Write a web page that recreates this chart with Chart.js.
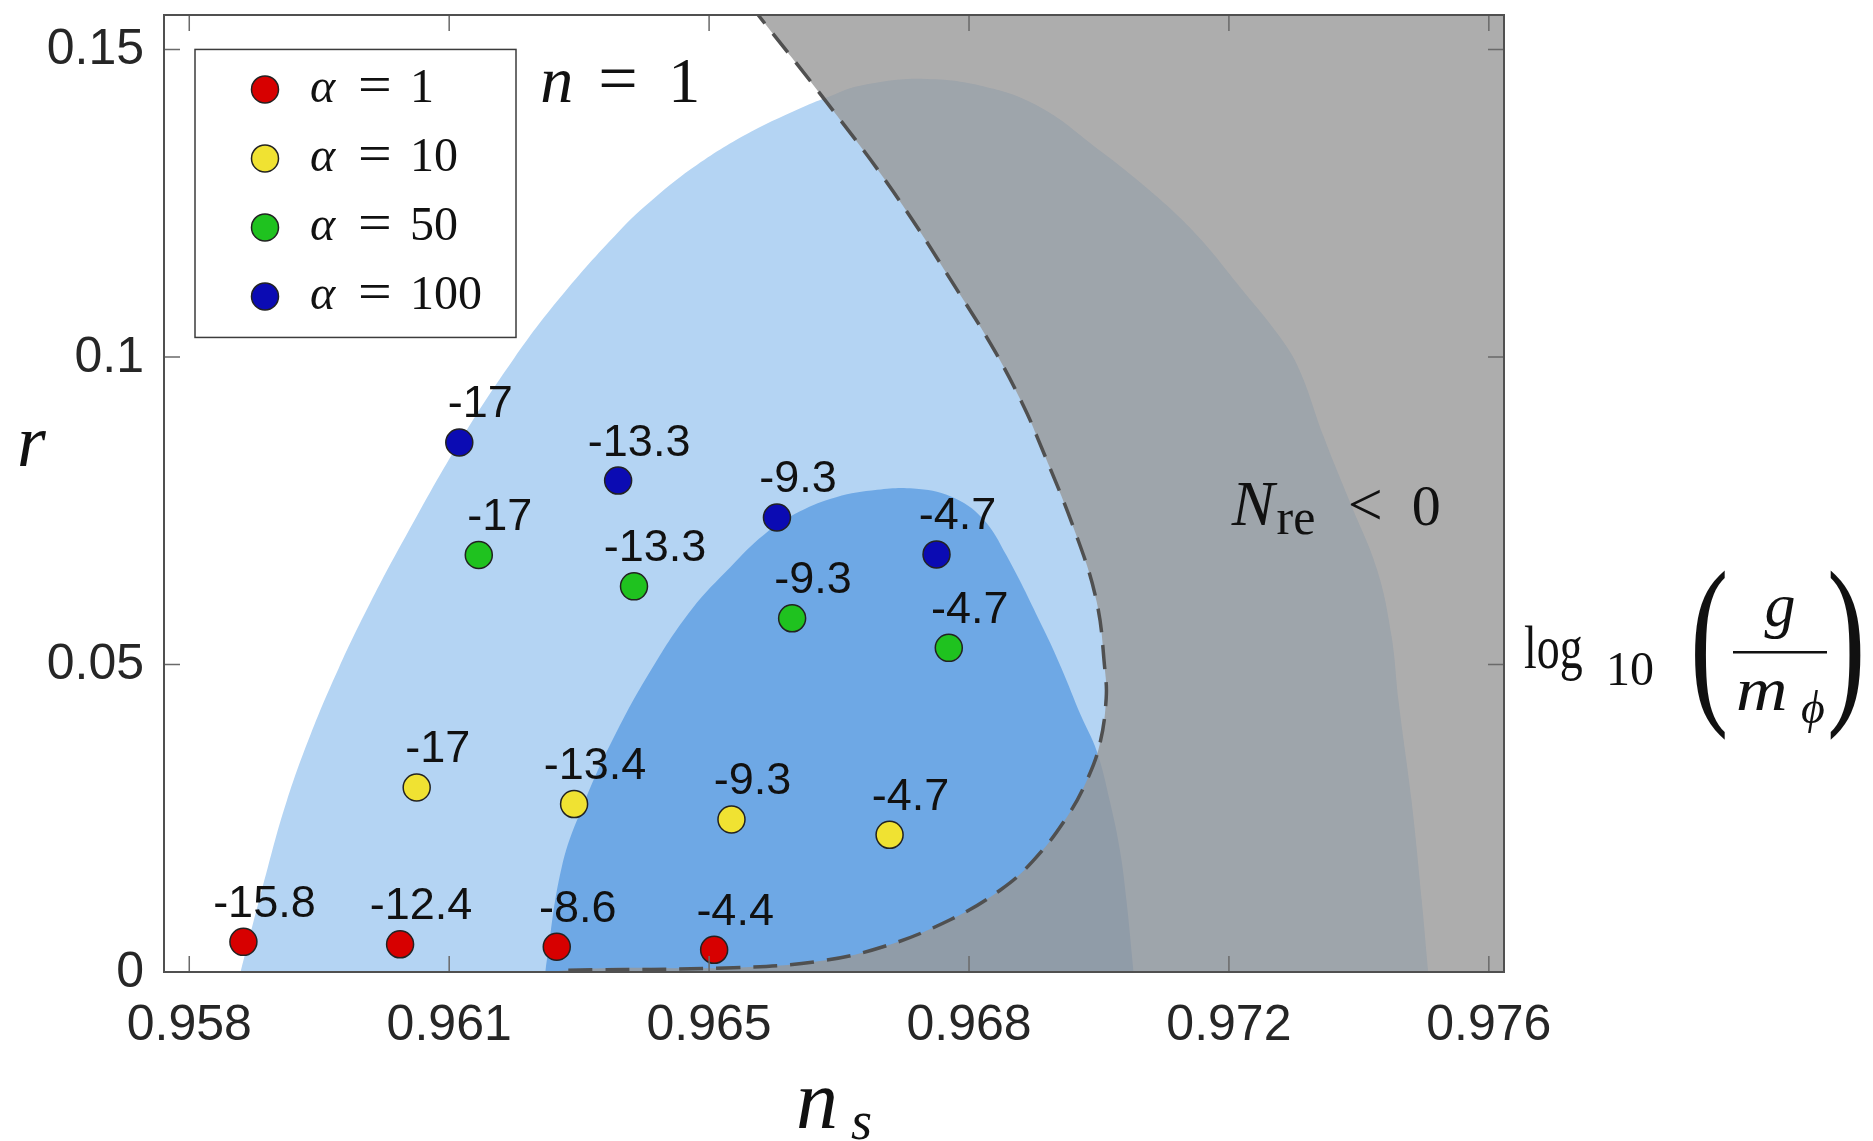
<!DOCTYPE html>
<html>
<head>
<meta charset="utf-8">
<script src="https://cdn.jsdelivr.net/npm/chart.js@4.4.1/dist/chart.umd.min.js"></script>
<style>
  html, body { margin: 0; padding: 0; background: #fff; }
  canvas { display: block; }
</style>
</head>
<body>
<canvas id="chart" width="1873" height="1141"></canvas>
<script>
// ==========================================
// n = 1 : plane (n_s, r), punts etiquetats amb log10(g/m_phi)
// ==========================================

// --- Eixos ---
const X_MIN = 0.95765, X_MAX = 0.97621;
const Y_MIN = 0, Y_MAX = 0.1556;

const xTickValues = [0.958, 0.9616, 0.9652, 0.9688, 0.9724, 0.976];
const xTickLabels = ['0.958', '0.961', '0.965', '0.968', '0.972', '0.976'];
const yTickValues = [0, 0.05, 0.1, 0.15];
const yTickLabels = ['0', '0.05', '0.1', '0.15'];

// --- Regió exterior (blau clar) ---
const outerNs = [0.95871, 0.95909, 0.95935, 0.95968, 0.96007, 0.96051, 0.96100, 0.96178, 0.96250,
                 0.96314, 0.96395, 0.96444, 0.96503, 0.96578, 0.96655, 0.96683, 0.96729, 0.96821,
                 0.96914, 0.96983, 0.97052, 0.97121, 0.97191, 0.97260, 0.97311, 0.97338, 0.97371,
                 0.97408, 0.97445, 0.97465, 0.97475, 0.97493, 0.97507, 0.97516];
const outerR  = [0, 0.0171, 0.0278, 0.0386, 0.0494, 0.0601, 0.0709, 0.0869, 0.0998,
                 0.1097, 0.1204, 0.1258, 0.1312, 0.1366, 0.1409, 0.1422, 0.1441, 0.1452,
                 0.1436, 0.1403, 0.1344, 0.1280, 0.1204, 0.1107, 0.1032, 0.0978, 0.0871,
                 0.0763, 0.0655, 0.0548, 0.0440, 0.0278, 0.0117, 0];

// --- Regió interior (blau fosc) ---
const innerNs = [0.96293, 0.96316, 0.96348, 0.96390, 0.96441, 0.96496, 0.96550, 0.96596, 0.96646,
                 0.96696, 0.96753, 0.96803, 0.96855, 0.96899, 0.96932, 0.96983, 0.97008, 0.97035,
                 0.97057, 0.97075, 0.97089, 0.97098, 0.97108];
const innerR  = [0, 0.0171, 0.0278, 0.0386, 0.0494, 0.0590, 0.0659, 0.0711, 0.0749,
                 0.0772, 0.0784, 0.0786, 0.0773, 0.0737, 0.0677, 0.0558, 0.0494, 0.0417,
                 0.0359, 0.0278, 0.0198, 0.0117, 0];

// --- Frontera N_re = 0 (discontínua), de baix cap al nas i fins a dalt ---
const nreNs = [0.96325, 0.96554, 0.96669, 0.96761, 0.96854, 0.96923, 0.96969, 0.97015, 0.97043,
               0.97061, 0.97070, 0.97068, 0.97057, 0.97029, 0.96974, 0.96954, 0.96917, 0.96870,
               0.96775, 0.96683, 0.96588];
const nreR  = [0.0003, 0.0007, 0.0017, 0.0041, 0.0085, 0.0133, 0.0181, 0.0251, 0.0311,
               0.0370, 0.0445, 0.0494, 0.0601, 0.0709, 0.0871, 0.0924, 0.1007, 0.1097,
               0.1269, 0.1414, 0.1556];

// --- Punts de referència, una fila per alpha ---
const alphaValues = [1, 10, 50, 100];
const alphaColors = ['#d70000', '#f0e232', '#1fc21f', '#0b0bb3'];
const pointNs = [
  [0.95875, 0.96092, 0.96309, 0.96527],
  [0.96115, 0.96333, 0.96551, 0.96770],
  [0.96201, 0.96416, 0.96635, 0.96852],
  [0.96174, 0.96394, 0.96614, 0.96835],
];
const pointR = [
  [0.0049, 0.0045, 0.0041, 0.0036],
  [0.0300, 0.0273, 0.0248, 0.0223],
  [0.0678, 0.0627, 0.0575, 0.0527],
  [0.0861, 0.0799, 0.0739, 0.0679],
];
const pointLog = [
  [-15.8, -12.4, -8.6, -4.4],
  [-17, -13.4, -9.3, -4.7],
  [-17, -13.3, -9.3, -4.7],
  [-17, -13.3, -9.3, -4.7],
];

// --- Utilitats ---
const SANS = '"Liberation Sans", Arial, Helvetica, sans-serif';
const SERIF = '"Liberation Serif", "Times New Roman", serif';

function zip(xs, ys) {
  return xs.map((x, i) => ({ x, y: ys[i] }));
}

// text serif; sx comprimeix en horitzontal, retorna l'amplada dibuixada
function text(ctx, str, x, y, size, italic, align, sx) {
  sx = sx || 1;
  ctx.save();
  ctx.font = (italic ? 'italic ' : '') + size + 'px ' + SERIF;
  ctx.textAlign = align || 'left';
  ctx.translate(x, y);
  ctx.scale(sx, 1);
  ctx.fillText(str, 0, 0);
  const w = ctx.measureText(str).width * sx;
  ctx.restore();
  return w;
}

function marker(ctx, x, y, r, color) {
  ctx.beginPath();
  ctx.arc(x, y, r, 0, Math.PI * 2);
  ctx.fillStyle = color;
  ctx.fill();
  ctx.lineWidth = 1.5;
  ctx.strokeStyle = '#222';
  ctx.stroke();
}

// zona N_re < 0: frontera discontínua tancada per fora de l'àrea (es retalla)
function nreRegion() {
  return [{ x: 0.9615, y: -0.003 }]
    .concat(zip(nreNs, nreR))
    .concat([{ x: 0.96540, y: 0.163 }, { x: 0.985, y: 0.163 }, { x: 0.985, y: -0.008 }]);
}

// --- Datasets ---
const regionSets = [
  {
    type: 'line', label: 'outer', order: 10,
    data: zip(outerNs, outerR),
    backgroundColor: '#b4d4f3', borderWidth: 0, pointRadius: 0, tension: 0.4,
    fill: 'origin',
  },
  {
    type: 'line', label: 'inner', order: 9,
    data: zip(innerNs, innerR),
    backgroundColor: '#6ea8e5', borderWidth: 0, pointRadius: 0, tension: 0.4,
    fill: 'origin',
  },
  {
    type: 'line', label: 'nre<0', order: 8,
    data: nreRegion(),
    backgroundColor: 'rgba(153,153,153,0.8)', borderWidth: 0, pointRadius: 0, tension: 0.4,
    fill: 'shape',
  },
  {
    type: 'line', label: 'nre=0', order: 7,
    data: zip(nreNs, nreR),
    borderColor: '#505050', borderWidth: 3.5, borderDash: [24, 13],
    pointRadius: 0, tension: 0.4, fill: false,
  },
];

const FIRST_POINT_SET = regionSets.length;

const pointSets = alphaValues.map((a, s) => ({
  type: 'scatter', label: 'alpha = ' + a, order: 4 - s,
  data: zip(pointNs[s], pointR[s]),
  pointRadius: 13.5, pointHoverRadius: 13.5,
  pointBackgroundColor: alphaColors[s], pointBorderColor: '#222', pointBorderWidth: 1.5,
}));

// --- Decoració: marc, ticks interiors, etiquetes, llegenda, textos ---
const decor = {
  id: 'decor',
  afterDatasetsDraw(chart) {
    const ctx = chart.ctx;
    ctx.save();
    ctx.font = '45px ' + SANS;
    ctx.fillStyle = '#111';
    ctx.textAlign = 'center';
    ctx.textBaseline = 'alphabetic';
    pointLog.forEach((row, s) => {
      const meta = chart.getDatasetMeta(FIRST_POINT_SET + s);
      meta.data.forEach((el, i) => {
        ctx.fillText(String(row[i]), el.x + 21, el.y - 25);
      });
    });
    ctx.restore();
  },
  afterDraw(chart) {
    const ctx = chart.ctx;
    const { left, right, top, bottom } = chart.chartArea;
    const xs = chart.scales.x, ys = chart.scales.y;

    ctx.save();
    // ticks cap endins, als quatre costats
    ctx.strokeStyle = '#6a6a6a';
    ctx.lineWidth = 1.5;
    ctx.beginPath();
    xTickValues.forEach(v => {
      const px = xs.getPixelForValue(v);
      ctx.moveTo(px, bottom); ctx.lineTo(px, bottom - 16);
      ctx.moveTo(px, top); ctx.lineTo(px, top + 16);
    });
    yTickValues.forEach(v => {
      const py = ys.getPixelForValue(v);
      ctx.moveTo(left, py); ctx.lineTo(left + 16, py);
      ctx.moveTo(right, py); ctx.lineTo(right - 16, py);
    });
    ctx.stroke();

    // marc
    ctx.strokeStyle = '#505050';
    ctx.lineWidth = 2;
    ctx.strokeRect(left, top, right - left, bottom - top);

    // llegenda
    const lx = left + 31, ly = ys.getPixelForValue(0.15), lw = 321, lh = 288;
    ctx.fillStyle = '#fff';
    ctx.fillRect(lx, ly, lw, lh);
    ctx.strokeStyle = '#3c3c3c';
    ctx.lineWidth = 1.5;
    ctx.strokeRect(lx, ly, lw, lh);
    alphaValues.forEach((a, i) => {
      const cy = ly + 40 + i * 69;
      marker(ctx, lx + 70, cy, 13.5, alphaColors[i]);
      ctx.fillStyle = '#111';
      ctx.textBaseline = 'alphabetic';
      text(ctx, 'α', lx + 115, cy + 13, 48, true);
      text(ctx, '=', lx + 163, cy + 13, 52, false, 'left', 1.15);
      text(ctx, String(a), lx + 215, cy + 13, 48, false);
    });

    // n = 1
    ctx.fillStyle = '#111';
    const nx = xs.getPixelForValue(0.96286), ny = ys.getPixelForValue(0.14144);
    text(ctx, 'n', nx, ny, 66, true);
    text(ctx, '=', nx + 58, ny, 70, false);
    text(ctx, '1', nx + 128, ny, 64, false);

    // N_re < 0
    const qx = xs.getPixelForValue(0.97244), qy = ys.getPixelForValue(0.07272);
    const nw = text(ctx, 'N', qx, qy, 64, true);
    text(ctx, 're', qx + nw + 2, qy + 9, 50, false);
    text(ctx, '<', qx + 116, qy, 62, false);
    text(ctx, '0', qx + 180, qy, 58, false);

    // títols d'eixos
    text(ctx, 'r', 17, 466, 74, true);
    text(ctx, 'n', 796, 1128, 84, true);
    text(ctx, 's', 851, 1139, 54, true);

    // log10(g / m_phi)
    const rx = right + 20;
    text(ctx, 'log', rx, 668, 62, false, 'left', 0.74);
    text(ctx, '10', rx + 82, 685, 48, false);
    text(ctx, '(', rx + 166, 700, 186, false, 'left', 0.62);
    text(ctx, 'g', rx + 256, 626, 62, true, 'center');
    ctx.fillRect(rx + 209, 651, 94, 2.5);
    text(ctx, 'm', rx + 212, 710, 62, true, 'left', 1.15);
    text(ctx, 'ϕ', rx + 277, 723, 46, true);
    text(ctx, ')', rx + 303, 700, 186, false, 'left', 0.62);
    ctx.restore();
  }
};

// --- Gràfic ---
const chart = new Chart(document.getElementById('chart'), {
  type: 'scatter',
  data: { datasets: regionSets.concat(pointSets) },
  options: {
    responsive: false,
    devicePixelRatio: 1,
    animation: false,
    layout: { padding: { left: 0, top: 9, right: 369, bottom: 0 } },
    plugins: {
      legend: { display: false },
      tooltip: { enabled: false },
    },
    scales: {
      x: {
        type: 'linear', min: X_MIN, max: X_MAX,
        afterBuildTicks: scale => { scale.ticks = xTickValues.map(v => ({ value: v })); },
        afterFit: scale => {
          scale.height = 169;
          scale.paddingLeft = 0; scale.paddingRight = 0;
        },
        ticks: {
          callback: (v, i) => xTickLabels[i],
          autoSkip: false, maxRotation: 0, minRotation: 0,
          padding: 24, color: '#262626',
          font: { family: SANS, size: 50 },
        },
        grid: { drawOnChartArea: false, drawTicks: false },
        border: { display: false },
      },
      y: {
        type: 'linear', min: Y_MIN, max: Y_MAX,
        afterBuildTicks: scale => { scale.ticks = yTickValues.map(v => ({ value: v })); },
        afterFit: scale => {
          scale.width = 164;
          scale.paddingTop = 0; scale.paddingBottom = 0;
        },
        ticks: {
          callback: (v, i) => yTickLabels[i],
          padding: 20, labelOffset: 1, color: '#262626',
          font: { family: SANS, size: 50 },
        },
        grid: { drawOnChartArea: false, drawTicks: false },
        border: { display: false },
      },
    },
  },
  plugins: [decor],
});
</script>
</body>
</html>
